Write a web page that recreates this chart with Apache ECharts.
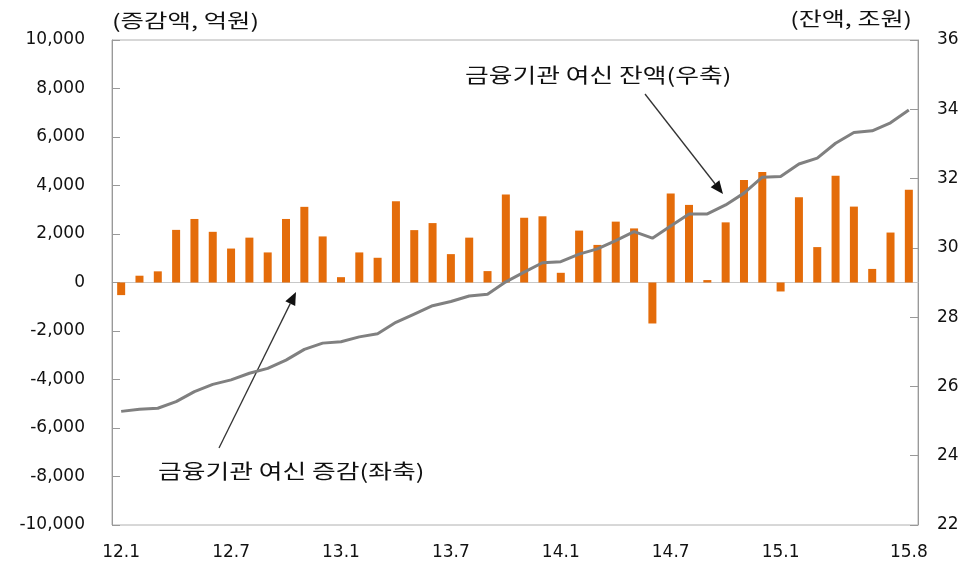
<!DOCTYPE html>
<html>
<head>
<meta charset="utf-8">
<script src="https://cdn.jsdelivr.net/npm/echarts@6/dist/echarts.min.js"></script>
<style>
  html, body { margin: 0; padding: 0; background: #fff; }
  #main { width: 963px; height: 569px; }
</style>
</head>
<body>
<div id="main"></div>
<script>
// 월 (12.1 ~ 15.8)
var months = [
  '12.1','12.2','12.3','12.4','12.5','12.6','12.7','12.8','12.9','12.10','12.11','12.12',
  '13.1','13.2','13.3','13.4','13.5','13.6','13.7','13.8','13.9','13.10','13.11','13.12',
  '14.1','14.2','14.3','14.4','14.5','14.6','14.7','14.8','14.9','14.10','14.11','14.12',
  '15.1','15.2','15.3','15.4','15.5','15.6','15.7','15.8'
];
// 표시할 x축 라벨
var shownLabels = ['12.1','12.7','13.1','13.7','14.1','14.7','15.1','15.8'];

// 금융기관 여신 증감 (억원, 좌축)
var loanChange = [
  -520, 280, 460, 2170, 2620, 2090, 1400, 1850, 1240, 2620, 3120, 1900,
  220, 1240, 1020, 3350, 2160, 2450, 1170, 1850, 470, 3630, 2670, 2730,
  400, 2140, 1550, 2510, 2230, -1690, 3670, 3200, 100, 2480, 4230, 4560,
  -370, 3520, 1460, 4400, 3130, 560, 2060, 3820
];
// 금융기관 여신 잔액 (조원, 우축)
var loanBalance = [
  25.28, 25.34, 25.37, 25.56, 25.85, 26.06, 26.19, 26.38, 26.52, 26.76, 27.07, 27.25,
  27.29, 27.43, 27.52, 27.85, 28.09, 28.33, 28.45, 28.61, 28.66, 29.02, 29.30, 29.57,
  29.60, 29.82, 29.97, 30.21, 30.47, 30.28, 30.63, 30.98, 30.98, 31.24, 31.58, 32.04,
  32.06, 32.42, 32.59, 33.02, 33.33, 33.38, 33.61, 33.98
];

var numFont = 'DejaVu Sans';
var krFont = '"Noto Sans CJK KR", "Noto Sans", sans-serif';

// 화살표 (선 + 삼각형 머리)
function arrow(x1, y1, x2, y2) {
  var ang = Math.atan2(y2 - y1, x2 - x1);
  var len = 13, half = 5.5;
  var bx = x2 - len * Math.cos(ang), by = y2 - len * Math.sin(ang);
  var px = -Math.sin(ang) * half, py = Math.cos(ang) * half;
  return [
    { type: 'line', shape: { x1: x1, y1: y1, x2: bx, y2: by }, style: { stroke: '#333', lineWidth: 1.3 } },
    { type: 'polygon', shape: { points: [[x2, y2], [bx + px, by + py], [bx - px, by - py]] }, style: { fill: '#111' } }
  ];
}

// 가로로 넓은 글꼴 흉내 (scaleX)
function label(text, x, y, size, sx, align) {
  return {
    type: 'text', x: x, y: y, scaleX: sx,
    style: { text: text, font: size + 'px ' + krFont, fill: '#111', align: align || 'left', verticalAlign: 'middle' }
  };
}

var chart = echarts.init(document.getElementById('main'));

var option = {
  backgroundColor: '#fff',
  animation: false,
  grid: { left: 112, right: 45, top: 40, bottom: 44, show: true, borderColor: '#b0b0b0', borderWidth: 1 },
  xAxis: [{
    type: 'category',
    data: months,
    axisLine: { onZero: true, lineStyle: { color: '#c8c8c8', width: 1 } },
    axisTick: { inside: true, length: 6, lineStyle: { color: '#7f9fcf' } },
    axisLabel: { show: false }
  }, {
    type: 'category',
    data: months,
    position: 'bottom',
    axisLine: { show: false },
    axisTick: { show: false },
    axisLabel: {
      margin: 19,
      color: '#111',
      fontFamily: numFont,
      fontSize: 17,
      interval: function (idx, val) { return shownLabels.indexOf(val) >= 0; }
    }
  }],
  yAxis: [{
    type: 'value',
    min: -10000, max: 10000, interval: 2000,
    axisLine: { show: true, lineStyle: { color: '#999' } },
    axisTick: { show: true, inside: true, length: 8, lineStyle: { color: '#999' } },
    splitLine: { show: false },
    axisLabel: {
      margin: 27, color: '#111', fontFamily: numFont, fontSize: 17,
      formatter: function (v) { return v.toLocaleString('en-US'); }
    }
  }, {
    type: 'value',
    min: 22, max: 36, interval: 2,
    axisLine: { show: true, lineStyle: { color: '#999' } },
    axisTick: { show: true, inside: true, length: 8, lineStyle: { color: '#999' } },
    splitLine: { show: false },
    axisLabel: { margin: 19, color: '#111', fontFamily: numFont, fontSize: 17 }
  }],
  series: [{
    name: '금융기관 여신 증감(좌축)',
    type: 'bar',
    xAxisIndex: 0,
    yAxisIndex: 0,
    data: loanChange,
    barWidth: 8,
    itemStyle: { color: '#E46C0A' }
  }, {
    name: '금융기관 여신 잔액(우축)',
    type: 'line',
    xAxisIndex: 0,
    yAxisIndex: 1,
    data: loanBalance,
    symbol: 'none',
    lineStyle: { color: '#808080', width: 3 }
  }],
  graphic: [
    label('(증감액, 억원)', 112, 21, 19, 1.34),
    label('(잔액, 조원)', 912, 19, 19, 1.32, 'right'),
    label('금융기관 여신 잔액(우축)', 465, 75, 20, 1.29),
    label('금융기관 여신 증감(좌축)', 158, 471, 20, 1.29)
  ].concat(arrow(645, 94, 723, 194)).concat(arrow(219, 448, 296, 292))
};

chart.setOption(option);
</script>
</body>
</html>
